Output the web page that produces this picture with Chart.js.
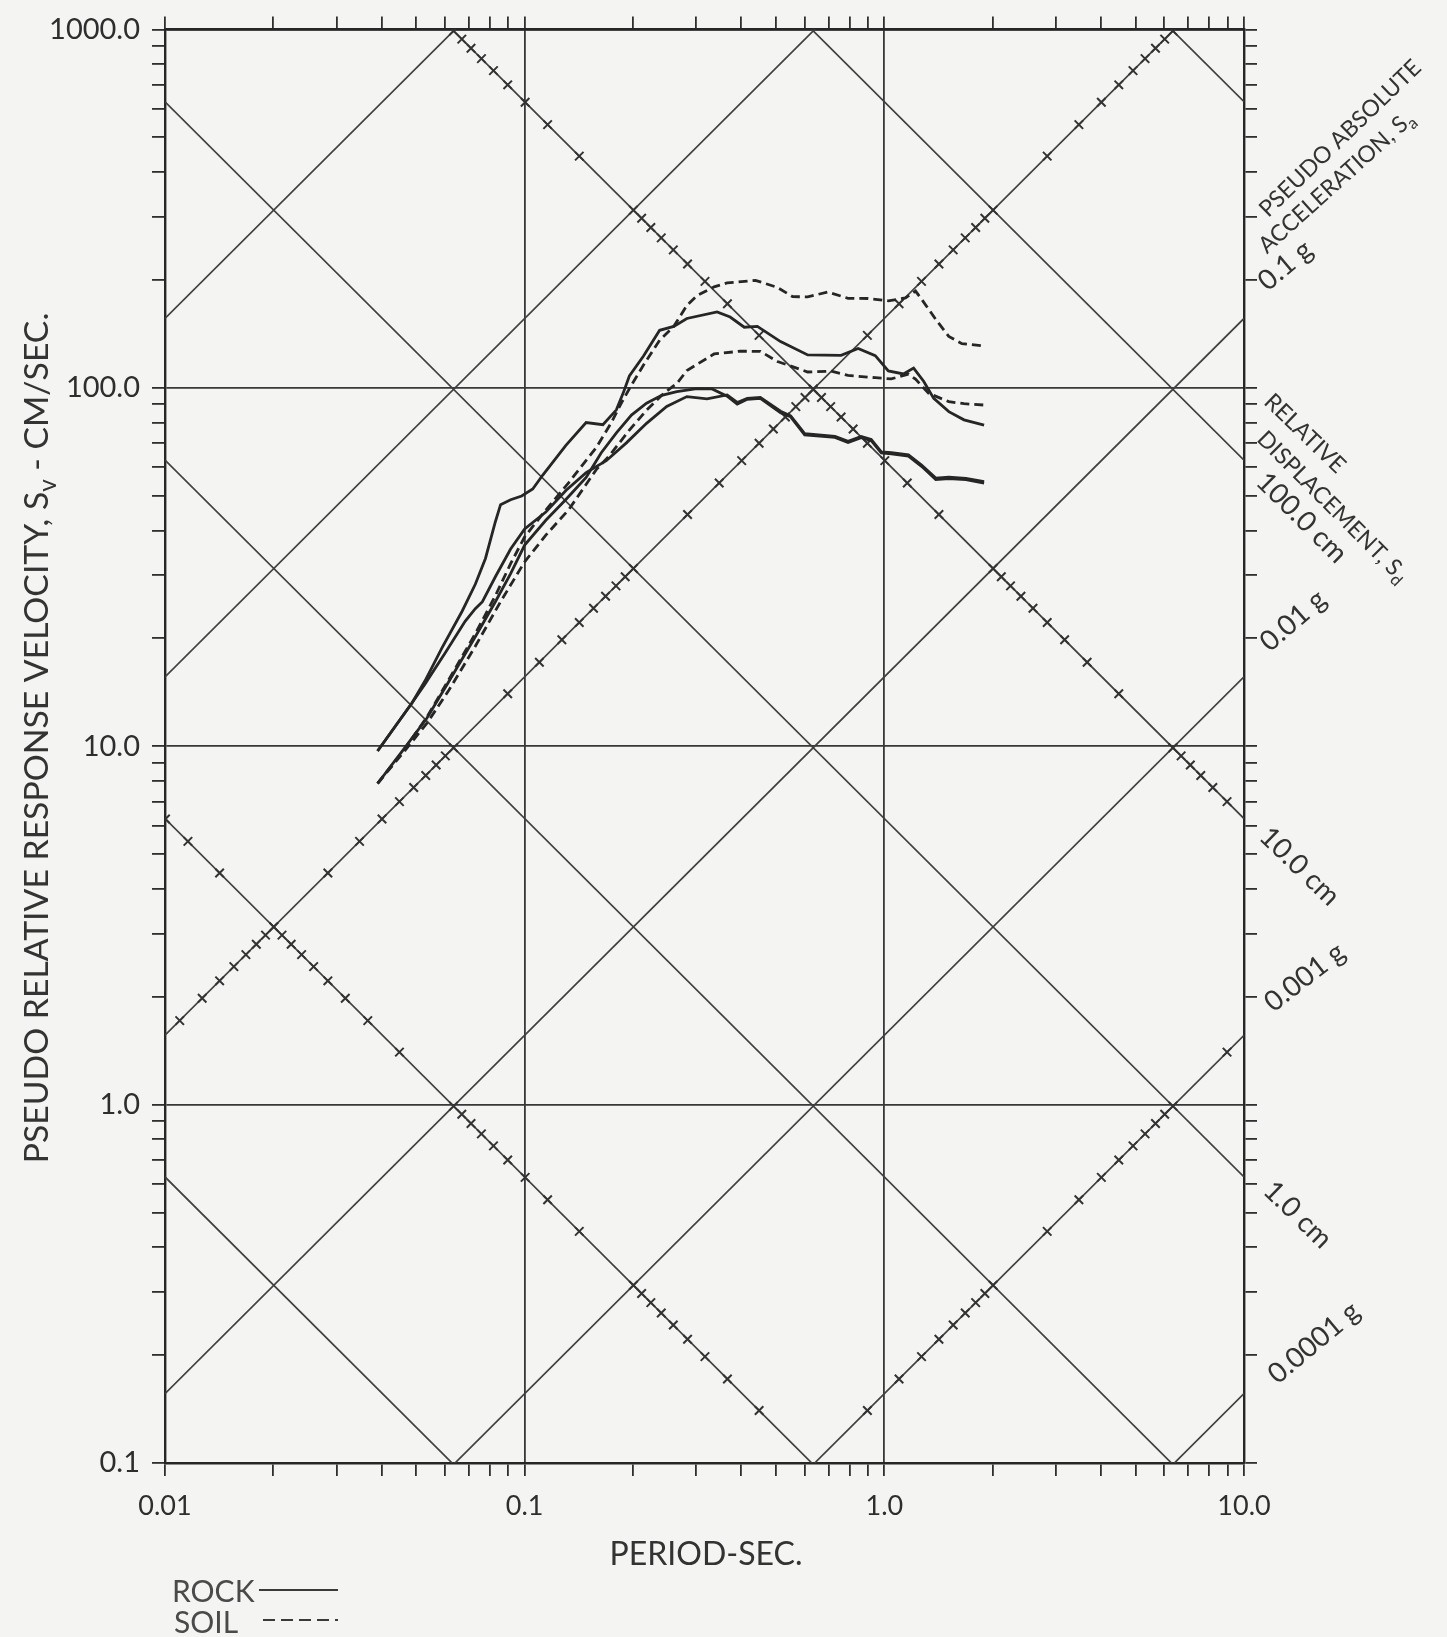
<!DOCTYPE html>
<html>
<head>
<meta charset="utf-8">
<script src="https://cdn.jsdelivr.net/npm/chart.js@4.4.1/dist/chart.umd.min.js"></script>
<style>
  html, body { margin: 0; padding: 0; background: #f4f4f2; }
  #wrap { width: 1447px; height: 1637px; }
</style>
</head>
<body>
<div id="wrap"><canvas id="myChart" width="1447" height="1637"></canvas></div>
<script>
// axis ticks
var periodTicks = [0.01, 0.1, 1.0, 10.0];
var periodLabels = ['0.01', '0.1', '1.0', '10.0'];
var velocityTicks = [0.1, 1, 10, 100, 1000];
var velocityLabels = ['0.1', '1.0', '10.0', '100.0', '1000.0'];

// tripartite diagonals (acceleration in g, displacement in cm)
var accelLinesG = [0.0001, 0.001, 0.01, 0.1, 1, 10, 100];
var dispLinesCm = [0.001, 0.01, 0.1, 1, 10, 100, 1000];
var tickedAccelG = [1, 0.001];
var tickedDispCm = [10, 0.01];

// response spectra: period (sec) / pseudo velocity (cm/sec)
var rock1Period = [0.039, 0.0486, 0.0528, 0.0589, 0.067, 0.0729, 0.0778, 0.0829, 0.0857, 0.0914, 0.0981, 0.1053, 0.1123, 0.1302, 0.1482, 0.165, 0.1799, 0.188, 0.1955, 0.214, 0.2373, 0.2598, 0.2825, 0.3428, 0.3727, 0.4079, 0.4436, 0.5146, 0.6124, 0.7579, 0.8455, 0.9436, 1.026, 1.13, 1.206, 1.286, 1.372, 1.511, 1.665, 1.894];
var rock1Sv = [9.7, 13.2, 15.2, 18.8, 23.8, 28.3, 33.4, 42.3, 47.2, 48.7, 49.9, 52.2, 57.1, 69.1, 80.0, 78.9, 86.8, 96.8, 107.9, 122.6, 144.7, 148.4, 156.1, 162.9, 157.6, 147.6, 148.4, 134.6, 123.5, 123.2, 128.8, 122.9, 111.5, 109.3, 113.5, 104.3, 93.4, 85.8, 81.4, 78.7];

var rock2Period = [0.039, 0.0486, 0.0528, 0.0601, 0.0683, 0.0729, 0.0763, 0.0829, 0.0914, 0.1, 0.1145, 0.1302, 0.1482, 0.1686, 0.1918, 0.2182, 0.2483, 0.2825, 0.3214, 0.3656, 0.3899, 0.4159, 0.4521, 0.5146, 0.549, 0.6006, 0.7291, 0.7928, 0.8622, 0.9196, 0.9808, 1.046, 1.167, 1.269, 1.39, 1.511, 1.686, 1.894];
var rock2Sv = [9.7, 13.2, 14.9, 18.2, 22.3, 24.2, 25.3, 29.7, 35.5, 40.4, 45.0, 51.7, 58.0, 62.6, 70.2, 79.6, 88.7, 94.5, 93.1, 95.5, 91.0, 93.5, 94.0, 86.0, 83.5, 74.5, 73.2, 70.9, 73.1, 71.7, 66.3, 65.9, 65.0, 60.9, 56.0, 56.3, 55.9, 54.7];

var rock3Period = [0.039, 0.0464, 0.0535, 0.0612, 0.0729, 0.0829, 0.0914, 0.1, 0.1145, 0.1302, 0.1482, 0.1633, 0.1799, 0.1981, 0.2182, 0.2404, 0.2649, 0.3013, 0.3319, 0.3656, 0.3899, 0.4159, 0.4521, 0.5146, 0.549, 0.6006, 0.7291, 0.7928, 0.8622, 0.9196, 0.9808, 1.046, 1.167, 1.269, 1.39, 1.511, 1.686, 1.894];
var rock3Sv = [7.87, 9.89, 11.98, 15.0, 20.2, 25.3, 30.3, 36.4, 42.7, 48.8, 56.2, 65.9, 74.9, 83.9, 90.6, 95.3, 97.6, 99.4, 99.3, 94.8, 90.0, 92.9, 93.4, 85.2, 83.0, 73.9, 72.7, 70.4, 72.6, 71.2, 65.8, 65.4, 64.5, 60.4, 55.5, 55.8, 55.4, 54.2];

var soil1Period = [0.039, 0.0464, 0.0535, 0.0612, 0.0729, 0.0829, 0.0914, 0.1, 0.1145, 0.1328, 0.1581, 0.1741, 0.1857, 0.1981, 0.214, 0.2373, 0.2598, 0.2825, 0.3013, 0.3362, 0.3656, 0.438, 0.5047, 0.5561, 0.6124, 0.6966, 0.7928, 0.902, 1.026, 1.145, 1.221, 1.269, 1.39, 1.511, 1.643, 1.894];
var soil1Sv = [7.87, 9.83, 12.06, 15.2, 20.6, 26.3, 32.3, 38.4, 45.6, 54.5, 68.1, 79.9, 90.7, 101.8, 115.7, 135.7, 148.4, 169.7, 180.8, 191.3, 196.1, 199.5, 190.5, 179.6, 179.4, 185.0, 177.7, 177.5, 174.9, 178.1, 186.2, 176.8, 155.2, 139.1, 132.8, 130.9];

var soil2Period = [0.039, 0.0464, 0.0535, 0.0612, 0.0729, 0.0857, 0.1, 0.1145, 0.1328, 0.1581, 0.1719, 0.1834, 0.1955, 0.2182, 0.2435, 0.2649, 0.2825, 0.3362, 0.3975, 0.4521, 0.5047, 0.6124, 0.7102, 0.7928, 0.9436, 1.046, 1.167, 1.221, 1.328, 1.511, 1.665, 1.894];
var soil2Sv = [7.87, 9.71, 11.6, 14.2, 19.0, 25.3, 32.7, 38.8, 45.8, 59.1, 64.6, 70.2, 76.2, 86.6, 96.5, 102.8, 111.7, 124.3, 126.5, 126.4, 118.4, 110.7, 111.3, 108.3, 106.7, 105.9, 109.2, 105.7, 96.5, 91.5, 90.3, 89.5];

var G_CM = 981;
var INK = '#333333';
var FONT = 'Lato, "Open Sans", sans-serif';

function svFromAccel(period, g) { return g * G_CM * period / (2 * Math.PI); }
function svFromDisp(period, cm) { return 2 * Math.PI * cm / period; }
function periodAt(g, cm) { return 2 * Math.PI * Math.sqrt(cm / (g * G_CM)); }

var tMin = periodTicks[0], tMax = periodTicks[periodTicks.length - 1];
var vMin = velocityTicks[0], vMax = velocityTicks[velocityTicks.length - 1];
function inside(t, v) { return t >= tMin && t <= tMax && v >= vMin && v <= vMax; }

function pairs(xs, ys) { return xs.map(function (x, i) { return {x: x, y: ys[i]}; }); }

function logTicks(min, max) {
  var out = [];
  for (var e = Math.round(Math.log10(min)); e < Math.round(Math.log10(max)); e++) {
    for (var m = 1; m < 10; m++) out.push({value: m * Math.pow(10, e)});
  }
  out.push({value: max});
  return out;
}
function isMajor(v) {
  var l = Math.log10(v);
  return Math.abs(l - Math.round(l)) < 1e-6;
}
function labelFor(v, vals, labels) {
  for (var i = 0; i < vals.length; i++) {
    if (Math.abs(Math.log10(vals[i]) - Math.log10(v)) < 1e-6) return labels[i];
  }
  return '';
}

var datasets = [];

function curve(label, xs, ys, dashed) {
  datasets.push({
    label: label, data: pairs(xs, ys), borderColor: '#262626', borderWidth: 2.8,
    borderDash: dashed ? [9, 5] : [], pointRadius: 0, tension: 0, fill: false
  });
}
curve('ROCK', rock1Period, rock1Sv, false);
curve('ROCK', rock2Period, rock2Sv, false);
curve('ROCK', rock3Period, rock3Sv, false);
curve('SOIL', soil1Period, soil1Sv, true);
curve('SOIL', soil2Period, soil2Sv, true);

// cross ticks along the scaled diagonals
tickedAccelG.forEach(function (g) {
  var pts = [];
  for (var e = -4; e <= 3; e++) for (var m = 1; m < 10; m++) {
    var t = periodAt(g, m * Math.pow(10, e)), v = svFromAccel(t, g);
    if (inside(t, v)) pts.push({x: t, y: v});
  }
  datasets.push({data: pts, showLine: false, pointStyle: 'crossRot',
    pointRadius: 6, pointBorderWidth: 2, pointBorderColor: '#333'});
});
tickedDispCm.forEach(function (cm) {
  var pts = [];
  for (var e = -5; e <= 3; e++) for (var m = 1; m < 10; m++) {
    var t = periodAt(m * Math.pow(10, e), cm), v = svFromDisp(t, cm);
    if (inside(t, v)) pts.push({x: t, y: v});
  }
  datasets.push({data: pts, showLine: false, pointStyle: 'crossRot',
    pointRadius: 6, pointBorderWidth: 2, pointBorderColor: '#333'});
});

// diagonal grid lines
accelLinesG.forEach(function (g) {
  datasets.push({data: [{x: tMin, y: svFromAccel(tMin, g)}, {x: tMax, y: svFromAccel(tMax, g)}],
    borderColor: '#404040', borderWidth: 1.7, pointRadius: 0});
});
dispLinesCm.forEach(function (cm) {
  datasets.push({data: [{x: tMin, y: svFromDisp(tMin, cm)}, {x: tMax, y: svFromDisp(tMax, cm)}],
    borderColor: '#404040', borderWidth: 1.7, pointRadius: 0});
});

function richWidth(ctx, parts, size) {
  var w = 0;
  parts.forEach(function (p) {
    ctx.font = (p.sub ? size * 0.72 : size) + 'px ' + FONT;
    w += ctx.measureText(p.text).width;
  });
  return w;
}
function drawRich(ctx, parts, x, y, angle, size, center) {
  ctx.save();
  ctx.translate(x, y);
  ctx.rotate(angle * Math.PI / 180);
  ctx.textAlign = 'left';
  ctx.textBaseline = 'middle';
  var cx = center ? -richWidth(ctx, parts, size) / 2 : 0;
  parts.forEach(function (p) {
    ctx.font = (p.sub ? size * 0.72 : size) + 'px ' + FONT;
    ctx.fillText(p.text, cx, p.sub ? size * 0.32 : 0);
    cx += ctx.measureText(p.text).width;
  });
  ctx.restore();
}
function fitSize(ctx, parts, width) {
  return 30 * width / richWidth(ctx, parts, 30);
}

var sideLabels = [
  {parts: [{text: 'PSEUDO ABSOLUTE'}], x: 1263, y: 213, a: -44, s: 23},
  {parts: [{text: 'ACCELERATION, S'}, {text: 'a', sub: true}], x: 1262, y: 249, a: -42, s: 23},
  {parts: [{text: '0.1 g'}], x: 1262, y: 285, a: -40, s: 28},
  {parts: [{text: 'RELATIVE'}], x: 1268, y: 398, a: 44, s: 23},
  {parts: [{text: 'DISPLACEMENT, S'}, {text: 'd', sub: true}], x: 1261, y: 435, a: 45, s: 23},
  {parts: [{text: '100.0 cm'}], x: 1261, y: 477, a: 45, s: 28},
  {parts: [{text: '0.01 g'}], x: 1264, y: 646, a: -41, s: 28},
  {parts: [{text: '10.0 cm'}], x: 1264, y: 832, a: 44, s: 28},
  {parts: [{text: '0.001 g'}], x: 1268, y: 1006, a: -38, s: 28},
  {parts: [{text: '1.0 cm'}], x: 1268, y: 1186, a: 44, s: 28},
  {parts: [{text: '0.0001 g'}], x: 1272, y: 1378, a: -40, s: 28}
];

var paperPlugin = {
  id: 'paper',
  beforeDraw: function (chart) {
    var ctx = chart.ctx;
    ctx.save();
    ctx.fillStyle = '#f4f4f2';
    ctx.fillRect(0, 0, chart.width, chart.height);
    ctx.restore();
  },
  afterDraw: function (chart) {
    var ctx = chart.ctx;
    ctx.save();
    ctx.fillStyle = INK;
    // axis titles
    var yTitle = [{text: 'PSEUDO RELATIVE RESPONSE VELOCITY, S'}, {text: 'v', sub: true}, {text: ' - CM/SEC.'}];
    drawRich(ctx, yTitle, 37, 738, -90, fitSize(ctx, yTitle, 851), true);
    var xTitle = [{text: 'PERIOD-SEC.'}];
    drawRich(ctx, xTitle, 706, 1555, 0, fitSize(ctx, xTitle, 193), true);
    // right side scale names
    sideLabels.forEach(function (l) { drawRich(ctx, l.parts, l.x, l.y, l.a, l.s, false); });
    // legend
    ctx.fillStyle = '#4a4a4a';
    drawRich(ctx, [{text: 'ROCK'}], 172, 1592, 0, 30, false);
    drawRich(ctx, [{text: 'SOIL'}], 174, 1623, 0, 30, false);
    ctx.strokeStyle = '#3a3a3a';
    ctx.lineWidth = 2.2;
    ctx.beginPath(); ctx.moveTo(259, 1590); ctx.lineTo(338, 1590); ctx.stroke();
    ctx.setLineDash([12, 6]);
    ctx.beginPath(); ctx.moveTo(263, 1620); ctx.lineTo(338, 1620); ctx.stroke();
    ctx.restore();
  }
};

function logAxis(pos, min, max, size, vals, labels) {
  var horizontal = pos === 'top' || pos === 'bottom';
  var main = pos === 'bottom' || pos === 'left';
  return {
    type: 'logarithmic', position: pos, min: min, max: max,
    afterBuildTicks: function (s) { s.ticks = logTicks(min, max); },
    afterFit: function (s) { if (horizontal) s.height = size; else s.width = size; },
    ticks: {
      autoSkip: false, maxRotation: 0, minRotation: 0, padding: horizontal ? 14 : 12,
      color: '#2e2e2e', font: {family: FONT, size: horizontal ? 27 : 29},
      callback: function (v) { return main ? labelFor(v, vals, labels) : ''; }
    },
    grid: {
      drawOnChartArea: main,
      color: function (c) { return c.tick && isMajor(c.tick.value) ? '#383838' : 'rgba(0,0,0,0)'; },
      lineWidth: 1.8, tickColor: '#2f2f2f', tickWidth: 1.8, tickLength: 13
    },
    border: {display: true, color: '#262626', width: 2.4}
  };
}

var ctx = document.getElementById('myChart');
var myChart = new Chart(ctx, {
  type: 'line',
  data: {datasets: datasets},
  options: {
    responsive: false, animation: false, devicePixelRatio: 1, events: [],
    layout: {padding: 0},
    plugins: {legend: {display: false}, tooltip: {enabled: false}},
    scales: {
      x: logAxis('bottom', tMin, tMax, 174, periodTicks, periodLabels),
      x2: logAxis('top', tMin, tMax, 27, periodTicks, periodLabels),
      y: logAxis('left', vMin, vMax, 165, velocityTicks, velocityLabels),
      y2: logAxis('right', vMin, vMax, 203, velocityTicks, velocityLabels)
    }
  },
  plugins: [paperPlugin]
});
</script>
</body>
</html>
